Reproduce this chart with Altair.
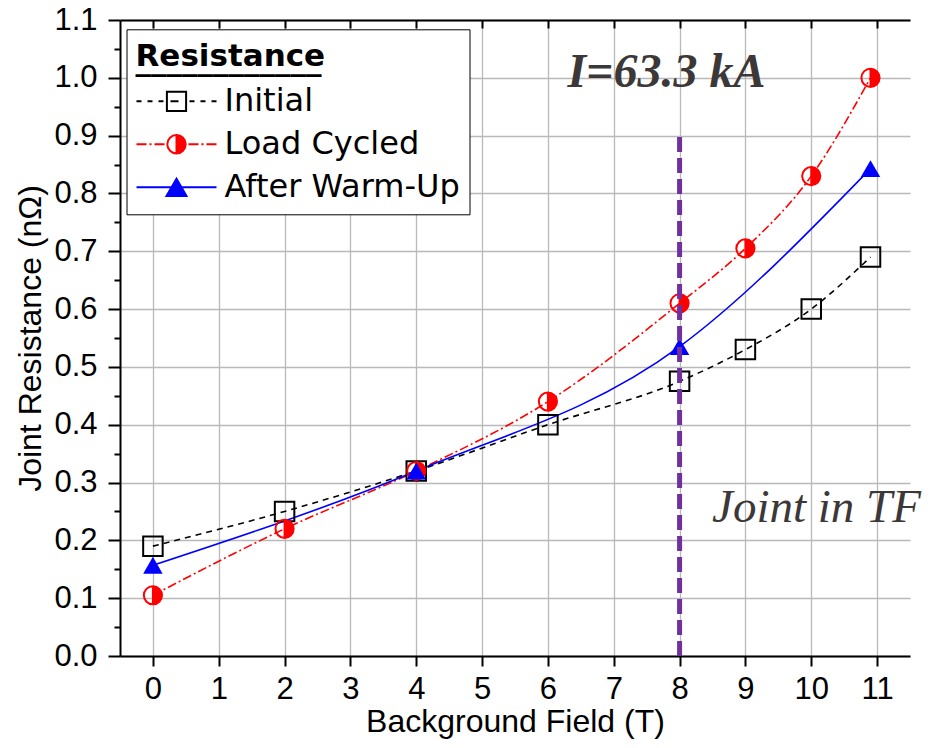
import altair as alt
import pandas as pd

# ---------------- data ----------------
field_T = [0, 2, 4, 6, 8, 9, 10, 10.9]
initial = [0.19, 0.25, 0.32, 0.40, 0.475, 0.53, 0.60, 0.69]
load_cycled = [0.105, 0.22, 0.32, 0.44, 0.61, 0.705, 0.83, 1.00]
warm_field = [0, 4, 8, 10.9]
warm_up = [0.157, 0.32, 0.535, 0.843]

series_names = ["Initial", "Load Cycled", "After Warm-Up"]
series_strokes = ["black", "#ff0000", "#0000ff"]
series_fills = ["transparent", "#ff0000", "#0000ff"]

x_ticks = list(range(12))
y_ticks = [round(0.1 * i, 1) for i in range(12)]
y_minor = [round(0.05 + 0.1 * i, 2) for i in range(11)]

joint_field = [8]
joint_top = [0.9]

note_current = ["I=63.3 kA"]
note_current_x = [7.8]
note_current_y = [0.984]
note_joint = ["Joint in TF"]
note_joint_x = [10.08]
note_joint_y = [0.232]

legend_title = ["", "Resistance", "____________"]

# ---------------- tables ----------------
df_init = pd.DataFrame({"x": field_T, "y": initial})
df_load = pd.DataFrame({"x": field_T, "y": load_cycled})
df_warm = pd.DataFrame({"x": warm_field, "y": warm_up})
df_rule = pd.DataFrame({"x": joint_field, "y": [0], "y2": joint_top})
df_n1 = pd.DataFrame({"t": note_current, "x": note_current_x, "y": note_current_y})
df_n2 = pd.DataFrame({"t": note_joint, "x": note_joint_x, "y": note_joint_y})
df_leg = pd.DataFrame({"series": series_names})

FONT = "Liberation Sans"
xscale = alt.Scale(domain=[-0.5, 11.5], nice=False, zero=False)
yscale = alt.Scale(domain=[0, 1.1], nice=False, zero=False)

HALF = "M0,-1A1,1,0,1,1,0,1A1,1,0,1,1,0,-1ZM0,-1A1,1,0,0,0,0,1Z"
INIT_LEG = ("M-1,0H-0.875M-0.725,0H-0.6M-0.45,0H-0.325"
            "M-0.24,-0.24H0.24V0.24H-0.24Z M-0.15,0H0.05"
            "M0.325,0H0.45M0.6,0H0.725M0.875,0H1")
LOAD_LEG = ("M-1,0H-0.75M-0.675,0H-0.625M-0.55,0H-0.3"
            "M0.3,0H0.55M0.625,0H0.675M0.75,0H1"
            "M0,-0.23A0.23,0.23,0,1,1,0,0.23A0.23,0.23,0,1,1,0,-0.23Z"
            "M0,-0.23A0.23,0.23,0,0,0,0,0.23Z")
WARM_LEG = "M-1,0H1M0,-0.2165L-0.25,0.2165L0.25,0.2165Z"

main_x_axis = alt.Axis(values=x_ticks, format="d", title="Background Field (T)",
                       grid=True, gridColor="#b9b9b9", gridWidth=1.3,
                       domainColor="black", domainWidth=2, tickColor="black",
                       tickWidth=2, tickSize=10, labelFont=FONT, labelFontSize=31,
                       labelColor="black", labelPadding=8, titleFont=FONT,
                       titleFontSize=32, titleFontWeight="normal", titleColor="black",
                       titlePadding=2, orient="bottom")
main_y_axis = alt.Axis(values=y_ticks, format=".1f", title="Joint Resistance (nΩ)",
                       grid=True, gridColor="#b9b9b9", gridWidth=1.3,
                       domainColor="black", domainWidth=2, tickColor="black",
                       tickWidth=2, tickSize=12, labelFont=FONT, labelFontSize=31,
                       labelColor="black", labelPadding=11, titleFont=FONT,
                       titleFontSize=32, titleFontWeight="normal", titleColor="black",
                       titlePadding=6, orient="left")
top_domain_axis = alt.Axis(orient="top", values=x_ticks, ticks=False, labels=False,
                           grid=False, title=None, domainColor="black", domainWidth=2)
top_tick_axis = alt.Axis(orient="top", values=x_ticks, offset=-8, tickSize=8,
                         tickWidth=2, tickColor="black", labels=False, grid=False,
                         title=None, domain=False)
minor_y_axis = alt.Axis(orient="left", values=y_minor, tickSize=6, tickWidth=2,
                        tickColor="black", labels=False, grid=False, title=None,
                        domain=False)

line_init = alt.Chart(df_init).mark_line(
    interpolate="monotone", color="black", strokeWidth=1.6, strokeDash=[6, 5]
).encode(x=alt.X("x:Q", scale=xscale, axis=main_x_axis),
         y=alt.Y("y:Q", scale=yscale, axis=main_y_axis))

line_load = alt.Chart(df_load).mark_line(
    interpolate="monotone", color="#ff0000", strokeWidth=1.6, strokeDash=[9, 3, 2, 3]
).encode(x=alt.X("x:Q", scale=xscale, axis=top_domain_axis),
         y=alt.Y("y:Q", scale=yscale, axis=minor_y_axis))

line_warm = alt.Chart(df_warm).mark_line(
    interpolate="monotone", color="#0000ff", strokeWidth=1.6
).encode(x=alt.X("x:Q", scale=xscale, axis=top_tick_axis),
         y=alt.Y("y:Q", scale=yscale, axis=None))

pts_init = alt.Chart(df_init).mark_point(
    shape="square", size=380, filled=False, stroke="black", strokeWidth=2, opacity=1
).encode(x=alt.X("x:Q", scale=xscale, axis=None), y=alt.Y("y:Q", scale=yscale, axis=None))

pts_load = alt.Chart(df_load).mark_point(
    shape=HALF, size=330, filled=True, fill="#ff0000", stroke="#ff0000",
    strokeWidth=2, opacity=1
).encode(x=alt.X("x:Q", scale=xscale, axis=None), y=alt.Y("y:Q", scale=yscale, axis=None))

pts_warm = alt.Chart(df_warm).mark_point(
    shape="triangle-up", size=380, filled=True, color="#0000ff", opacity=1
).encode(x=alt.X("x:Q", scale=xscale, axis=None), y=alt.Y("y:Q", scale=yscale, axis=None))

rule = alt.Chart(df_rule).mark_rule(
    color="#7030a0", strokeWidth=5, strokeDash=[15, 6]
).encode(x=alt.X("x:Q", scale=xscale, axis=None),
         y=alt.Y("y:Q", scale=yscale, axis=None), y2="y2:Q")

txt1 = alt.Chart(df_n1).mark_text(
    font="Liberation Serif", fontSize=48, fontStyle="italic", fontWeight="bold",
    color="#3d3838", align="center", baseline="alphabetic"
).encode(x=alt.X("x:Q", scale=xscale, axis=None),
         y=alt.Y("y:Q", scale=yscale, axis=None), text="t:N")

txt2 = alt.Chart(df_n2).mark_text(
    font="Liberation Serif", fontSize=47, fontStyle="italic",
    color="#3d3838", align="center", baseline="alphabetic"
).encode(x=alt.X("x:Q", scale=xscale, axis=None),
         y=alt.Y("y:Q", scale=yscale, axis=None), text="t:N")

leg = alt.Legend(title=legend_title, orient="none", legendX=6.5, legendY=9.3,
                 titleFont="DejaVu Sans", titleFontSize=31, titleFontWeight="bold",
                 titleColor="black", titleLimit=600, titlePadding=6,
                 titleLineHeight=4,
                 labelFont="DejaVu Sans", labelFontSize=32, labelColor="black",
                 labelLimit=600, labelOffset=7,
                 symbolSize=6400, symbolStrokeWidth=2, symbolOpacity=1,
                 clipHeight=36, rowPadding=7, padding=9,
                 strokeColor="black", fillColor="white", cornerRadius=0)

legend_layer = alt.Chart(df_leg).mark_point(
    size=6400, strokeWidth=2, opacity=1, filled=True
).encode(
    shape=alt.Shape("series:N", scale=alt.Scale(domain=series_names,
                    range=[INIT_LEG, LOAD_LEG, WARM_LEG]), legend=leg),
    fill=alt.Fill("series:N", scale=alt.Scale(domain=series_names,
                  range=series_fills), legend=leg),
    stroke=alt.Stroke("series:N", scale=alt.Scale(domain=series_names,
                      range=series_strokes), legend=leg),
).transform_filter("false")

chart = alt.layer(
    line_init, line_load, line_warm, pts_init, pts_load, pts_warm,
    rule, txt1, txt2, legend_layer
).resolve_axis(x="independent", y="independent").properties(
    width=790, height=636,
    autosize=alt.AutoSizeParams(type="none"),
    padding={"left": 112, "top": 12, "right": 15, "bottom": 85},
    background="white",
).configure_view(stroke=None)

chart.save("out.html", embed_options={"renderer": "svg", "actions": False})
